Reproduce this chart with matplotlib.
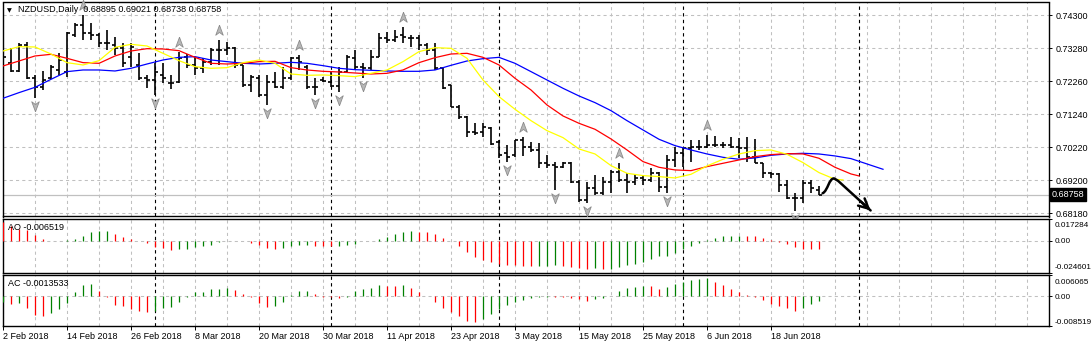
import numpy as np
import pandas as pd
import matplotlib
matplotlib.use("Agg")
import matplotlib.pyplot as plt
from matplotlib.path import Path
from matplotlib.patches import PathPatch
from matplotlib import transforms

plt.rcParams['font.family'] = ['Liberation Sans', 'DejaVu Sans']
plt.rcParams['font.size'] = 6.5

# ---------------- data ----------------
symbol = "NZDUSD,Daily"
dates = pd.bdate_range("2018-02-02", "2018-06-26")   # 103 daily bars

opens = [0.73743, 0.72816, 0.72589, 0.73383, 0.72353, 0.72074, 0.72353, 0.72610, 0.72559, 0.73692,
         0.74000, 0.73743, 0.73692, 0.73434, 0.73383, 0.73280, 0.73022, 0.72765, 0.72353, 0.72301,
         0.72456, 0.72198, 0.72250, 0.73022, 0.72765, 0.72662, 0.72868, 0.73228, 0.73228, 0.73280,
         0.72765, 0.72147, 0.72353, 0.71838, 0.72250, 0.72074, 0.72353, 0.72971, 0.72713, 0.72074,
         0.72301, 0.72250, 0.72116, 0.72559, 0.72971, 0.72713, 0.72662, 0.73022, 0.73589, 0.73537,
         0.73692, 0.73589, 0.73589, 0.73383, 0.73228, 0.72662, 0.72147, 0.71477, 0.71168, 0.70705,
         0.70705, 0.70808, 0.70396, 0.70035, 0.69984, 0.70447, 0.70241, 0.70138, 0.69726, 0.69675,
         0.69623, 0.69726, 0.69160, 0.68593, 0.68954, 0.68799, 0.69160, 0.69469, 0.69211, 0.69160,
         0.69263, 0.69211, 0.69417, 0.69005, 0.69829, 0.70035, 0.70190, 0.70241, 0.70241, 0.70293,
         0.70293, 0.70293, 0.70241, 0.70190, 0.69932, 0.69726, 0.69417, 0.69396, 0.69057, 0.68645,
         0.68645, 0.69108, 0.68895]
highs = [0.74000, 0.73280, 0.73434, 0.73486, 0.72456, 0.72589, 0.72765, 0.73125, 0.73795, 0.74052,
         0.74310, 0.74052, 0.73743, 0.73846, 0.73640, 0.73434, 0.73434, 0.73125, 0.72456, 0.72816,
         0.72816, 0.72456, 0.73177, 0.73104, 0.73022, 0.72971, 0.73280, 0.73537, 0.73486, 0.73331,
         0.72765, 0.72456, 0.72456, 0.72456, 0.72559, 0.72713, 0.73022, 0.73074, 0.72765, 0.72353,
         0.72383, 0.72559, 0.72713, 0.73074, 0.73228, 0.72816, 0.73228, 0.73743, 0.73795, 0.73846,
         0.73949, 0.73692, 0.73692, 0.73434, 0.73434, 0.72662, 0.72147, 0.71529, 0.71189, 0.70962,
         0.70983, 0.70859, 0.70447, 0.70293, 0.70447, 0.70550, 0.70396, 0.70344, 0.69984, 0.69778,
         0.69778, 0.69778, 0.69211, 0.69160, 0.69366, 0.69314, 0.69520, 0.69726, 0.69417, 0.69366,
         0.69366, 0.69572, 0.69469, 0.69984, 0.70241, 0.70241, 0.70447, 0.70447, 0.70602, 0.70571,
         0.70396, 0.70550, 0.70499, 0.70550, 0.70468, 0.69747, 0.69469, 0.69438, 0.69211, 0.68820,
         0.69211, 0.69211, 0.69021]
lows = [0.72940, 0.72559, 0.72559, 0.72332, 0.71735, 0.71992, 0.72322, 0.72456, 0.72383, 0.73640,
        0.73537, 0.73537, 0.73331, 0.73228, 0.73074, 0.72713, 0.72713, 0.72301, 0.72044, 0.71838,
        0.72198, 0.72013, 0.72198, 0.72662, 0.72456, 0.72507, 0.72765, 0.72765, 0.73074, 0.72662,
        0.72095, 0.71941, 0.71786, 0.71529, 0.72044, 0.72013, 0.72301, 0.72610, 0.72013, 0.71838,
        0.72250, 0.72074, 0.71941, 0.72507, 0.72610, 0.72353, 0.72610, 0.73022, 0.73434, 0.73486,
        0.73434, 0.73331, 0.73228, 0.73074, 0.72610, 0.72013, 0.71477, 0.71086, 0.70550, 0.70602,
        0.70550, 0.70293, 0.69881, 0.69778, 0.69932, 0.69953, 0.70087, 0.69572, 0.69572, 0.68902,
        0.69572, 0.69129, 0.68542, 0.68511, 0.68748, 0.68748, 0.68799, 0.69160, 0.68799, 0.69057,
        0.69057, 0.69160, 0.68851, 0.68799, 0.69623, 0.69623, 0.69778, 0.70138, 0.70190, 0.70241,
        0.70190, 0.70190, 0.69881, 0.69778, 0.69726, 0.69263, 0.69263, 0.68851, 0.68614, 0.68263,
        0.68490, 0.68799, 0.68738]
closes = [0.73022, 0.72589, 0.73383, 0.72353, 0.72074, 0.72301, 0.72713, 0.72919, 0.73743, 0.74000,
          0.73743, 0.73692, 0.73434, 0.73434, 0.73280, 0.72816, 0.73331, 0.72353, 0.72301, 0.72559,
          0.72353, 0.72198, 0.72971, 0.72765, 0.72662, 0.72868, 0.73228, 0.73228, 0.73280, 0.72765,
          0.72147, 0.72404, 0.71838, 0.72250, 0.72074, 0.72353, 0.72971, 0.72868, 0.72074, 0.72074,
          0.72280, 0.72116, 0.72559, 0.73022, 0.72713, 0.72662, 0.73022, 0.73589, 0.73537, 0.73640,
          0.73640, 0.73589, 0.73383, 0.73228, 0.72662, 0.72044, 0.71477, 0.71168, 0.70705, 0.70653,
          0.70859, 0.70323, 0.69984, 0.69932, 0.70447, 0.70241, 0.70138, 0.69726, 0.69675, 0.69623,
          0.69726, 0.69160, 0.68593, 0.68954, 0.68799, 0.69160, 0.69469, 0.69211, 0.69160, 0.69263,
          0.69211, 0.69417, 0.69005, 0.69829, 0.70035, 0.70190, 0.70241, 0.70241, 0.70293, 0.70293,
          0.70293, 0.70241, 0.70190, 0.69932, 0.69726, 0.69417, 0.69396, 0.69057, 0.68645, 0.68645,
          0.69108, 0.68954, 0.68758]

up_fractals = [10, 22, 27, 37, 50, 65, 77, 88]
down_fractals = [4, 19, 33, 39, 42, 45, 63, 69, 73, 83, 99]

# Alligator lines (read every second bar, shifted into the future)
jaw_bars = list(range(0, 111, 2))
jaw = [0.71735, 0.71910, 0.72074, 0.72322, 0.72559, 0.72610, 0.72610, 0.72579, 0.72662, 0.72795,
       0.72919, 0.73001, 0.73022, 0.72919, 0.72868, 0.72816, 0.72795, 0.72816, 0.72847, 0.72816,
       0.72744, 0.72662, 0.72620, 0.72600, 0.72579, 0.72569, 0.72569, 0.72610, 0.72754, 0.72888,
       0.72960, 0.73001, 0.72816, 0.72559, 0.72301, 0.72044, 0.71807, 0.71601, 0.71353, 0.71044,
       0.70756, 0.70468, 0.70272, 0.70138, 0.70014, 0.69911, 0.69850, 0.69891, 0.69973, 0.70014,
       0.70035, 0.70014, 0.69953, 0.69870, 0.69705, 0.69541]
teeth_bars = list(range(0, 107, 2)) + [107]
teeth = [0.72734, 0.72888, 0.73043, 0.73094, 0.72971, 0.72837, 0.72816, 0.73043, 0.73197, 0.73269,
         0.73259, 0.73207, 0.73001, 0.72816, 0.72795, 0.72816, 0.72868, 0.72878, 0.72682, 0.72610,
         0.72569, 0.72548, 0.72517, 0.72486, 0.72507, 0.72610, 0.72837, 0.72991, 0.73104, 0.73125,
         0.73001, 0.72765, 0.72353, 0.71992, 0.71529, 0.71189, 0.70962, 0.70777, 0.70478, 0.70138,
         0.69778, 0.69602, 0.69520, 0.69499, 0.69623, 0.69726, 0.69829, 0.69932, 0.69994, 0.70025,
         0.70014, 0.69881, 0.69602, 0.69396, 0.69335]
lips_bars = list(range(0, 105, 2)) + [105]
lips = [0.73197, 0.73331, 0.73321, 0.73104, 0.72837, 0.72765, 0.72898, 0.73310, 0.73403, 0.73352,
        0.73125, 0.72898, 0.72713, 0.72662, 0.72682, 0.72837, 0.72919, 0.72816, 0.72486, 0.72445,
        0.72456, 0.72435, 0.72404, 0.72507, 0.72610, 0.72868, 0.73177, 0.73300, 0.73280, 0.72971,
        0.72301, 0.71786, 0.71395, 0.71044, 0.70735, 0.70519, 0.70169, 0.70014, 0.69654, 0.69417,
        0.69345, 0.69314, 0.69273, 0.69386, 0.69644, 0.69850, 0.70014, 0.70117, 0.70138, 0.70004,
        0.69747, 0.69438, 0.69232, 0.69211]

ao = [0.01424, 0.01114, 0.00907, 0.00803, 0.00466, 0.00181, 0.00026, -0.0001, 0.0003, 0.00181,
      0.00389, 0.00648, 0.00725, 0.00735, 0.00544, 0.00337, 0.00181, 0.0002, -0.00181, -0.00492,
      -0.00518, -0.00699, -0.00648, -0.00596, -0.00492, -0.00389, -0.00285, -0.00104, -0.0002, -0.0003,
      -0.0004, -0.0013, -0.00337, -0.00518, -0.00596, -0.0057, -0.00389, -0.00337, -0.00285, -0.00363,
      -0.00389, -0.00395, -0.0038, -0.00337, -0.00259, -0.0003, 0.00026, 0.0013, 0.00337, 0.00492,
      0.00648, 0.00777, 0.0070, 0.00648, 0.00518, 0.00259, -0.0003, -0.00389, -0.00829, -0.01217,
      -0.01476, -0.01658, -0.01787, -0.01865, -0.01891, -0.01917, -0.0196, -0.0194, -0.0192, -0.0190,
      -0.0198, -0.0200, -0.0208, -0.0218, -0.0212, -0.0220, -0.0216, -0.0200, -0.0187, -0.0179,
      -0.0161, -0.0143, -0.0117, -0.0114, -0.0096, -0.0065, -0.0039, -0.0013, 0.0008, 0.0023,
      0.0034, 0.0039, 0.0040, 0.0038, 0.0034, 0.0023, 0.0008, -0.0005, -0.0023, -0.0049,
      -0.0060, -0.0062, -0.006519]
ac = [-0.00173, -0.00211, -0.00202, -0.00336, -0.00528, -0.00557, -0.00480, -0.00365, -0.00202, 0.00115,
      0.00326, 0.00355, 0.00163, -0.00029, -0.0025, -0.00288, -0.00365, -0.00413, -0.00442, -0.00422,
      -0.00336, -0.00298, -0.00154, -0.0001, 0.00115, 0.00134, 0.00211, 0.00215, 0.0024, 0.00192,
      0.00067, -0.00029, -0.00202, -0.00298, -0.00269, -0.00154, 0.0003, 0.00144, 0.00163, 0.00067,
      -0.0001, -0.0002, -0.00058, -0.0001, 0.00163, 0.00211, 0.0024, 0.00326, 0.00288, 0.00285,
      0.00326, 0.0024, 0.00134, 0.0001, -0.0015, -0.00336, -0.00461, -0.00576, -0.00701, -0.0073,
      -0.00653, -0.00509, -0.00365, -0.0025, -0.00154, -0.00096, -0.00038, -0.00019, -0.0001, -0.0002,
      -0.0003, -0.0004, -0.00077, -0.00125, -0.00077, -0.00048, 0.0001, 0.00163, 0.0024, 0.00278,
      0.00307, 0.00288, 0.00211, 0.00269, 0.00355, 0.00422, 0.00461, 0.00499, 0.00518, 0.00422,
      0.00326, 0.00211, 0.00115, 0.00038, -0.0001, -0.00096, -0.00221, -0.00288, -0.00346, -0.00413,
      -0.00346, -0.00221, -0.0013533]

price_ticks = [0.68180, 0.69200, 0.70220, 0.71240, 0.72260, 0.73280, 0.74300]
ao_range = (-0.024601, 0.017284)
ac_range = (-0.008519, 0.006065)
date_labels = ["2 Feb 2018", "14 Feb 2018", "26 Feb 2018", "8 Mar 2018", "20 Mar 2018",
               "30 Mar 2018", "11 Apr 2018", "23 Apr 2018", "3 May 2018", "15 May 2018",
               "25 May 2018", "6 Jun 2018", "18 Jun 2018"]
separator_bars = [19, 41, 62, 85, 107]   # month separators (1 Mar, 1 Apr, 1 May, 1 Jun, Jul)

# hand-drawn forecast arrow (annotation), in (bar, price)
arrow_curve = [(102.45, 0.68800), (103.1, 0.68870), (103.25, 0.69273), (103.9, 0.69257)]
arrow_line = [(104.4, 0.69180), (108.45, 0.68268)]

# ---------------- layout ----------------
W, H = 1091, 347
fig = plt.figure(figsize=(W / 100, H / 100), dpi=100)
L, R = 2.5, 1049.0


def rect(top, bottom):
    return [L / W, 1 - bottom / H, (R - L) / W, (bottom - top) / H]


ax = fig.add_axes(rect(2.5, 216.5))
ax_ao = fig.add_axes(rect(218.5, 272.7))
ax_ac = fig.add_axes(rect(275.3, 326.0))
axes = [ax, ax_ao, ax_ac]

n = len(opens)
idx = np.arange(n)
xmin = -(3 - L) / 8.0
xmax = (R - 3) / 8.0
grid_col = '#c0c0c0'
label_pos = [dates.get_loc(pd.Timestamp(d)) for d in date_labels]

for a in axes:
    a.set_xlim(xmin, xmax)
    a.set_facecolor('white')
    for s in a.spines.values():
        s.set_color('black')
        s.set_linewidth(1.0)
    a.set_xticks(np.arange(0, 131, 4), minor=True)
    a.set_xticks(label_pos)
    a.grid(which='both', axis='x', color=grid_col, lw=0.75, ls=(0, (3, 3)))
    a.set_axisbelow(True)
    a.tick_params(axis='x', which='both', length=0, labelbottom=False)
    a.yaxis.tick_right()
    a.tick_params(axis='y', length=2.5, width=0.7, pad=2, labelsize=6.5)
    for b in separator_bars:
        a.axvline(b, color='black', lw=0.8, ls=(0, (3, 3)), zorder=1.5)

# ---------- main price panel ----------
ax.set_ylim(0.68081, 0.74696)
ax.set_yticks(price_ticks)
ax.set_yticklabels([f"{p:.5f}" for p in price_ticks])
ax.grid(axis='y', color=grid_col, lw=0.75, ls=(0, (3, 3)))
ax.axhline(closes[-1], color='#c0c0c0', lw=0.9, zorder=1.6)

ax.vlines(idx, lows, highs, color='black', lw=1.2, zorder=3)
ax.hlines(opens, idx - 0.4, idx, color='black', lw=1.2, zorder=3)
ax.hlines(closes, idx, idx + 0.4, color='black', lw=1.2, zorder=3)

ax.plot(jaw_bars, jaw, color='#0000ff', lw=0.9, zorder=4)
ax.plot(teeth_bars, teeth, color='#ff0000', lw=0.9, zorder=4)
ax.plot(lips_bars, lips, color='#ffff00', lw=0.9, zorder=4)

up_marker = [(0, 1), (0.6, -0.6), (0, -0.15), (-0.6, -0.6), (0, 1)]
dn_marker = [(x, -y) for x, y in up_marker]
up_tr = transforms.offset_copy(ax.transData, fig=fig, x=0, y=9, units='dots')
dn_tr = transforms.offset_copy(ax.transData, fig=fig, x=0, y=-7, units='dots')
ax.plot(up_fractals, [highs[i] for i in up_fractals], ls='none', marker=up_marker, ms=9,
        mfc='#b8b8b8', mec='#8c8c8c', mew=0.6, transform=up_tr, zorder=5, clip_on=False)
ax.plot(down_fractals, [lows[i] for i in down_fractals], ls='none', marker=dn_marker, ms=9,
        mfc='#b8b8b8', mec='#8c8c8c', mew=0.6, transform=dn_tr, zorder=5, clip_on=False)

verts = arrow_curve + arrow_line
codes = [Path.MOVETO, Path.CURVE4, Path.CURVE4, Path.CURVE4, Path.LINETO, Path.LINETO]
ax.add_patch(PathPatch(Path(verts, codes), fill=False, lw=1.8, color='black',
                       joinstyle='round', capstyle='round', zorder=6))
(x0, y0), (x1, y1) = arrow_line
ax.annotate('', xy=(x1, y1), xytext=(x1 - 0.3 * (x1 - x0), y1 - 0.3 * (y1 - y0)),
            arrowprops=dict(arrowstyle='->,head_length=0.7,head_width=0.35', lw=1.8,
                            color='black', shrinkA=0, shrinkB=0, mutation_scale=10), zorder=6)

ax.annotate(f"{closes[-1]:.5f}", xy=(1, closes[-1]), xycoords=('axes fraction', 'data'),
            xytext=(3, 0), textcoords='offset pixels', ha='left', va='center',
            color='white', fontsize=6.5,
            bbox=dict(boxstyle='square,pad=0.18', fc='black', ec='black'), annotation_clip=False)

fig.text(9.5 / W, 1 - 11 / H, '\u25BC', fontsize=4.5, ha='center', va='center',
         family=['DejaVu Sans'])
fig.text(18 / W, 1 - 10 / H,
         f"{symbol}  {opens[-1]:.5f} {highs[-1]:.5f} {lows[-1]:.5f} {closes[-1]:.5f}",
         ha='left', va='center', fontsize=6.5)


# ---------- oscillator panels ----------
def osc_colors(vals, first):
    cols = [first]
    for i in range(1, len(vals)):
        cols.append('#008000' if vals[i] > vals[i - 1] else '#ff0000')
    return cols


def setup_osc(a, vals, rng, first, name, fmt, ytop, top_off, bot_off):
    a.set_ylim(*rng)
    a.axhline(0, color=grid_col, lw=0.75, ls=(0, (3, 3)), zorder=0.5)
    a.vlines(idx, 0, vals, colors=osc_colors(vals, first), lw=0.9, zorder=3)
    a.set_yticks([rng[1], 0, rng[0]])
    a.set_yticklabels([f"{rng[1]:.6f}", "0.00", f"{rng[0]:.6f}"])
    a.tick_params(axis='y', labelsize=5.9, pad=1.5)
    labs = a.get_yticklabels()
    labs[0].set_va('top')
    labs[0].set_transform(labs[0].get_transform() +
                          transforms.ScaledTranslation(0, -top_off / 100, fig.dpi_scale_trans))
    labs[2].set_va('bottom')
    labs[2].set_transform(labs[2].get_transform() +
                          transforms.ScaledTranslation(0, bot_off / 100, fig.dpi_scale_trans))
    fig.text(8 / W, 1 - ytop / H, f"{name} {fmt.format(vals[-1])}", ha='left', va='center',
             fontsize=6.5)


setup_osc(ax_ao, ao, ao_range, '#ff0000', 'AO', '{:.6f}', 227, 3.5, 1.5)
setup_osc(ax_ac, ac, ac_range, '#008000', 'AC', '{:.7f}', 284, 3.5, 0)

ax_ac.set_xticklabels(date_labels)
ax_ac.tick_params(axis='x', which='major', length=3, width=0.7, pad=1.5,
                  labelbottom=True, labelsize=6.5)
for t in ax_ac.get_xticklabels():
    t.set_ha('left')

fig.savefig("out.png", dpi=100, facecolor='white')
